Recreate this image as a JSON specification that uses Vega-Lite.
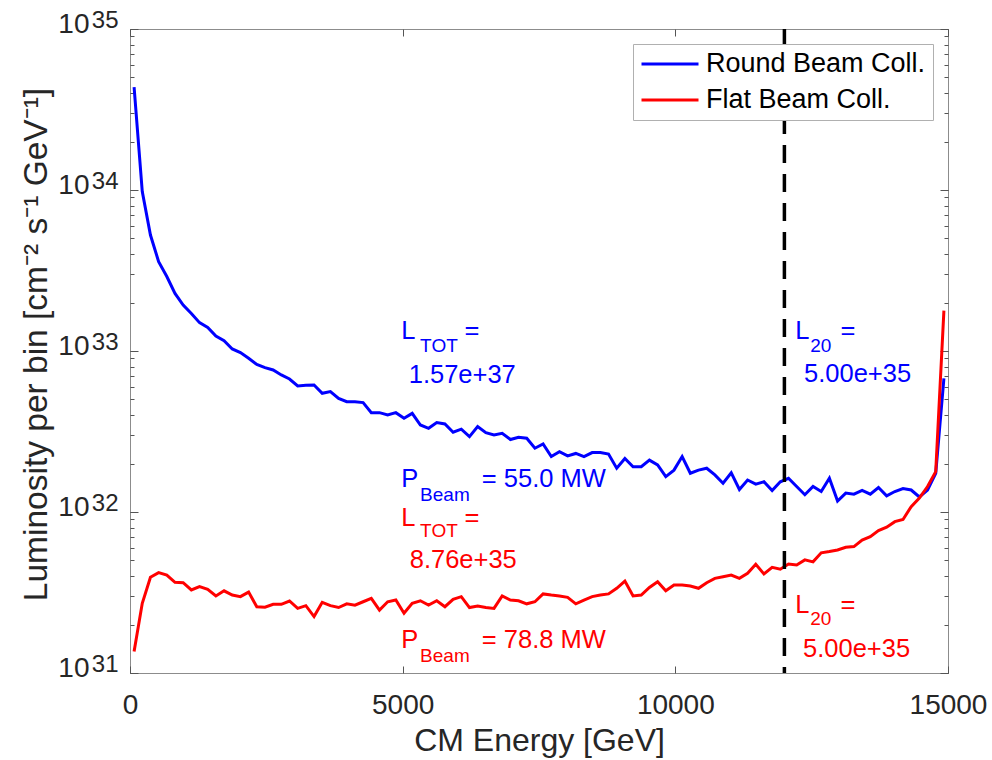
{
  "$schema": "https://vega.github.io/schema/vega-lite/v6.json",
  "width": 818,
  "height": 644,
  "autosize": {"type": "none"},
  "padding": {"left": 130, "top": 29, "right": 44, "bottom": 87},
  "background": "white",
  "config": {
    "font": "Liberation Sans",
    "view": {"stroke": "#8c8c8c", "strokeWidth": 1},
    "axis": {
      "labelFont": "Liberation Sans",
      "titleFont": "Liberation Sans",
      "labelColor": "#262626",
      "titleColor": "#262626",
      "domain": false,
      "tickColor": "#555555",
      "tickWidth": 1,
      "grid": false,
      "labelFontSize": 28,
      "titleFontSize": 28,
      "titleFontWeight": "normal",
      "labelOverlap": false,
      "labelFlush": false
    },
    "legend": {
      "orient": "none",
      "legendX": 503,
      "legendY": 15,
      "fillColor": "white",
      "strokeColor": "#b0b0b0",
      "padding": 7,
      "symbolType": "stroke",
      "symbolSize": 3249,
      "symbolStrokeWidth": 3,
      "clipHeight": 26,
      "labelFontSize": 27,
      "labelFont": "Liberation Sans",
      "labelColor": "black",
      "labelOffset": 6,
      "rowPadding": 9,
      "labelLimit": 400
    }
  },
  "resolve": {"axis": {"x": "independent", "y": "independent"}},
  "layer": [
    {
      "data": {
        "values": [
          {"E": 75, "round": 4.35e34, "flat": 1.36e31},
          {"E": 225, "round": 9.77e33, "flat": 2.71e31},
          {"E": 375, "round": 5.25e33, "flat": 3.93e31},
          {"E": 525, "round": 3.59e33, "flat": 4.20e31},
          {"E": 675, "round": 2.90e33, "flat": 4.06e31},
          {"E": 825, "round": 2.28e33, "flat": 3.66e31},
          {"E": 975, "round": 1.93e33, "flat": 3.64e31},
          {"E": 1125, "round": 1.71e33, "flat": 3.28e31},
          {"E": 1275, "round": 1.50e33, "flat": 3.44e31},
          {"E": 1425, "round": 1.40e33, "flat": 3.31e31},
          {"E": 1575, "round": 1.24e33, "flat": 3.01e31},
          {"E": 1725, "round": 1.16e33, "flat": 3.24e31},
          {"E": 1875, "round": 1.03e33, "flat": 3.05e31},
          {"E": 2025, "round": 9.77e32, "flat": 2.98e31},
          {"E": 2175, "round": 9.02e32, "flat": 3.18e31},
          {"E": 2325, "round": 8.26e32, "flat": 2.58e31},
          {"E": 2475, "round": 7.89e32, "flat": 2.56e31},
          {"E": 2625, "round": 7.62e32, "flat": 2.67e31},
          {"E": 2775, "round": 7.10e32, "flat": 2.67e31},
          {"E": 2925, "round": 6.70e32, "flat": 2.80e31},
          {"E": 3075, "round": 6.07e32, "flat": 2.52e31},
          {"E": 3225, "round": 6.12e32, "flat": 2.62e31},
          {"E": 3375, "round": 6.15e32, "flat": 2.24e31},
          {"E": 3525, "round": 5.46e32, "flat": 2.75e31},
          {"E": 3675, "round": 5.60e32, "flat": 2.62e31},
          {"E": 3825, "round": 5.08e32, "flat": 2.55e31},
          {"E": 3975, "round": 4.84e32, "flat": 2.69e31},
          {"E": 4125, "round": 4.84e32, "flat": 2.64e31},
          {"E": 4275, "round": 4.78e32, "flat": 2.77e31},
          {"E": 4425, "round": 4.14e32, "flat": 2.91e31},
          {"E": 4575, "round": 4.14e32, "flat": 2.46e31},
          {"E": 4725, "round": 4.01e32, "flat": 2.77e31},
          {"E": 4875, "round": 4.14e32, "flat": 2.84e31},
          {"E": 5025, "round": 3.82e32, "flat": 2.35e31},
          {"E": 5175, "round": 4.10e32, "flat": 2.71e31},
          {"E": 5325, "round": 3.47e32, "flat": 2.81e31},
          {"E": 5475, "round": 3.31e32, "flat": 2.64e31},
          {"E": 5625, "round": 3.59e32, "flat": 2.81e31},
          {"E": 5775, "round": 3.52e32, "flat": 2.58e31},
          {"E": 5925, "round": 3.13e32, "flat": 2.87e31},
          {"E": 6075, "round": 3.27e32, "flat": 2.98e31},
          {"E": 6225, "round": 2.94e32, "flat": 2.55e31},
          {"E": 6375, "round": 3.39e32, "flat": 2.61e31},
          {"E": 6525, "round": 3.11e32, "flat": 2.55e31},
          {"E": 6675, "round": 3.01e32, "flat": 2.52e31},
          {"E": 6825, "round": 3.08e32, "flat": 3.01e31},
          {"E": 6975, "round": 2.82e32, "flat": 2.84e31},
          {"E": 7125, "round": 2.91e32, "flat": 2.81e31},
          {"E": 7275, "round": 2.87e32, "flat": 2.69e31},
          {"E": 7425, "round": 2.49e32, "flat": 2.77e31},
          {"E": 7575, "round": 2.65e32, "flat": 3.10e31},
          {"E": 7725, "round": 2.21e32, "flat": 3.05e31},
          {"E": 7875, "round": 2.37e32, "flat": 3.01e31},
          {"E": 8025, "round": 2.23e32, "flat": 2.95e31},
          {"E": 8175, "round": 2.31e32, "flat": 2.69e31},
          {"E": 8325, "round": 2.21e32, "flat": 2.84e31},
          {"E": 8475, "round": 2.34e32, "flat": 2.98e31},
          {"E": 8625, "round": 2.34e32, "flat": 3.05e31},
          {"E": 8775, "round": 2.29e32, "flat": 3.10e31},
          {"E": 8925, "round": 1.87e32, "flat": 3.36e31},
          {"E": 9075, "round": 2.15e32, "flat": 3.72e31},
          {"E": 9225, "round": 1.91e32, "flat": 3.01e31},
          {"E": 9375, "round": 1.91e32, "flat": 3.05e31},
          {"E": 9525, "round": 2.10e32, "flat": 3.40e31},
          {"E": 9675, "round": 1.96e32, "flat": 3.69e31},
          {"E": 9825, "round": 1.66e32, "flat": 3.24e31},
          {"E": 9975, "round": 1.82e32, "flat": 3.52e31},
          {"E": 10125, "round": 2.21e32, "flat": 3.52e31},
          {"E": 10275, "round": 1.74e32, "flat": 3.47e31},
          {"E": 10425, "round": 1.82e32, "flat": 3.36e31},
          {"E": 10575, "round": 1.87e32, "flat": 3.64e31},
          {"E": 10725, "round": 1.70e32, "flat": 3.87e31},
          {"E": 10875, "round": 1.51e32, "flat": 3.96e31},
          {"E": 11025, "round": 1.75e32, "flat": 4.06e31},
          {"E": 11175, "round": 1.38e32, "flat": 3.87e31},
          {"E": 11325, "round": 1.58e32, "flat": 4.16e31},
          {"E": 11475, "round": 1.49e32, "flat": 4.73e31},
          {"E": 11625, "round": 1.54e32, "flat": 4.12e31},
          {"E": 11775, "round": 1.36e32, "flat": 4.53e31},
          {"E": 11925, "round": 1.54e32, "flat": 4.41e31},
          {"E": 12075, "round": 1.62e32, "flat": 4.75e31},
          {"E": 12225, "round": 1.44e32, "flat": 4.69e31},
          {"E": 12375, "round": 1.28e32, "flat": 5.04e31},
          {"E": 12525, "round": 1.44e32, "flat": 4.90e31},
          {"E": 12675, "round": 1.34e32, "flat": 5.58e31},
          {"E": 12825, "round": 1.62e32, "flat": 5.68e31},
          {"E": 12975, "round": 1.17e32, "flat": 5.81e31},
          {"E": 13125, "round": 1.31e32, "flat": 6.04e31},
          {"E": 13275, "round": 1.29e32, "flat": 6.10e31},
          {"E": 13425, "round": 1.36e32, "flat": 6.70e31},
          {"E": 13575, "round": 1.29e32, "flat": 7.03e31},
          {"E": 13725, "round": 1.42e32, "flat": 7.66e31},
          {"E": 13875, "round": 1.26e32, "flat": 8.04e31},
          {"E": 14025, "round": 1.34e32, "flat": 8.71e31},
          {"E": 14175, "round": 1.40e32, "flat": 8.99e31},
          {"E": 14325, "round": 1.37e32, "flat": 1.08e32},
          {"E": 14475, "round": 1.24e32, "flat": 1.22e32},
          {"E": 14625, "round": 1.37e32, "flat": 1.44e32},
          {"E": 14775, "round": 1.74e32, "flat": 1.78e32},
          {"E": 14925, "round": 6.76e32, "flat": 1.78e33}
        ]
      },
      "transform": [{"fold": ["round", "flat"], "as": ["series", "L"]}],
      "mark": {"type": "line", "strokeWidth": 3},
      "encoding": {
        "x": {
          "field": "E", "type": "quantitative",
          "scale": {"domain": [0, 15000], "nice": false, "zero": false},
          "axis": {
            "orient": "bottom",
            "values": [0, 5000, 10000, 15000],
            "format": "d",
            "ticks": false,
            "tickSize": 0,
            "labelPadding": 18,
            "title": "CM Energy [GeV]",
            "titleFontSize": 32,
            "titleX": 409,
            "titleY": 77,
            "titleBaseline": "alphabetic",
            "titleAlign": "center"
          }
        },
        "y": {
          "field": "L", "type": "quantitative",
          "scale": {"type": "log", "domain": [1e31, 1e35], "nice": false},
          "axis": {
            "orient": "left",
            "values": [1e31, 1e32, 1e33, 1e34, 1e35],
            "labelExpr": "'10'",
            "ticks": false,
            "tickSize": 0,
            "labelPadding": 41,
            "labelBaseline": "alphabetic",
            "labelOffset": 3,
            "title": "Luminosity per bin [cm⁻² s⁻¹ GeV⁻¹]",
            "titleFontSize": 33.5,
            "titleAngle": -90,
            "titleX": -84,
            "titleY": 315,
            "titleBaseline": "alphabetic",
            "titleAlign": "center"
          }
        },
        "color": {
          "field": "series", "type": "nominal",
          "scale": {"domain": ["round", "flat"], "range": ["#0000ff", "#ff0000"]},
          "legend": {
            "title": null,
            "labelExpr": "datum.label == 'round' ? 'Round Beam Coll.' : 'Flat Beam Coll.'"
          }
        }
      }
    },
    {
      "data": {"values": [{"E": 12000}]},
      "mark": {"type": "rule", "color": "black", "strokeWidth": 3.5, "strokeDash": [18, 11]},
      "encoding": {
        "x": {"field": "E", "type": "quantitative", "scale": {"domain": [0, 15000], "nice": false, "zero": false}, "axis": null}
      }
    },
    {
      "data": {
        "values": [
          {"E": 4975, "L": 1.179e33, "t": "L"},
          {"E": 6133, "L": 1.179e33, "t": "="},
          {"E": 4975, "L": 1.424e32, "t": "P"},
          {"E": 6451, "L": 1.424e32, "t": "= 55.0 MW"},
          {"E": 12200, "L": 1.182e33, "t": "L"},
          {"E": 13030, "L": 1.182e33, "t": "="}
        ]
      },
      "mark": {"type": "text", "align": "left", "baseline": "alphabetic", "fontSize": 25.5, "font": "Liberation Sans", "color": "#0000ff"},
      "encoding": {
        "x": {
          "field": "E", "type": "quantitative",
          "scale": {"domain": [0, 15000], "nice": false, "zero": false},
          "axis": {"orient": "top", "offset": -644, "values": [0, 5000, 10000, 15000], "labels": false, "ticks": true, "tickSize": 7, "title": null}
        },
        "y": {
          "field": "L", "type": "quantitative",
          "scale": {"type": "log", "domain": [1e31, 1e35], "nice": false},
          "axis": {
            "orient": "right", "offset": -818,
            "values": [1e31, 2e31, 3e31, 4e31, 5e31, 6e31, 7e31, 8e31, 9e31, 1e32, 2e32, 3e32, 4e32, 5e32, 6e32, 7e32, 8e32, 9e32, 1e33, 2e33, 3e33, 4e33, 5e33, 6e33, 7e33, 8e33, 9e33, 1e34, 2e34, 3e34, 4e34, 5e34, 6e34, 7e34, 8e34, 9e34, 1e35],
            "labels": false, "ticks": true, "tickSize": 4, "title": null
          }
        },
        "text": {"field": "t"}
      }
    },
    {
      "data": {
        "values": [
          {"E": 5111, "L": 6.36e32, "t": "1.57e+37"},
          {"E": 12360, "L": 6.45e32, "t": "5.00e+35"}
        ]
      },
      "mark": {"type": "text", "align": "left", "baseline": "alphabetic", "fontSize": 25.5, "font": "Liberation Sans", "color": "#0000ff"},
      "encoding": {
        "x": {
          "field": "E", "type": "quantitative",
          "scale": {"domain": [0, 15000], "nice": false, "zero": false},
          "axis": {"orient": "bottom", "offset": -644, "values": [0, 5000, 10000, 15000], "labels": false, "ticks": true, "tickSize": 7, "title": null}
        },
        "y": {
          "field": "L", "type": "quantitative",
          "scale": {"type": "log", "domain": [1e31, 1e35], "nice": false},
          "axis": {"orient": "right", "offset": -818, "values": [1e31, 1e32, 1e33, 1e34, 1e35], "labels": false, "ticks": true, "tickSize": 8, "title": null}
        },
        "text": {"field": "t"}
      }
    },
    {
      "data": {
        "values": [
          {"E": 5320, "L": 9.90e32, "t": "TOT"},
          {"E": 5320, "L": 1.176e32, "t": "Beam"},
          {"E": 12472, "L": 9.90e32, "t": "20"}
        ]
      },
      "mark": {"type": "text", "align": "left", "baseline": "alphabetic", "fontSize": 19, "font": "Liberation Sans", "color": "#0000ff"},
      "encoding": {
        "x": {"field": "E", "type": "quantitative", "scale": {"domain": [0, 15000], "nice": false, "zero": false}, "axis": null},
        "y": {
          "field": "L", "type": "quantitative",
          "scale": {"type": "log", "domain": [1e31, 1e35], "nice": false},
          "axis": {
            "orient": "left", "offset": -818,
            "values": [1e31, 2e31, 3e31, 4e31, 5e31, 6e31, 7e31, 8e31, 9e31, 1e32, 2e32, 3e32, 4e32, 5e32, 6e32, 7e32, 8e32, 9e32, 1e33, 2e33, 3e33, 4e33, 5e33, 6e33, 7e33, 8e33, 9e33, 1e34, 2e34, 3e34, 4e34, 5e34, 6e34, 7e34, 8e34, 9e34, 1e35],
            "labels": false, "ticks": true, "tickSize": 4, "title": null
          }
        },
        "text": {"field": "t"}
      }
    },
    {
      "data": {
        "values": [
          {"E": 4975, "L": 8.18e31, "t": "L"},
          {"E": 6133, "L": 8.18e31, "t": "="},
          {"E": 5129, "L": 4.47e31, "t": "8.76e+35"},
          {"E": 4975, "L": 1.424e31, "t": "P"},
          {"E": 6451, "L": 1.424e31, "t": "= 78.8 MW"},
          {"E": 12200, "L": 2.349e31, "t": "L"},
          {"E": 13030, "L": 2.349e31, "t": "="},
          {"E": 12341, "L": 1.263e31, "t": "5.00e+35"}
        ]
      },
      "mark": {"type": "text", "align": "left", "baseline": "alphabetic", "fontSize": 25.5, "font": "Liberation Sans", "color": "#ff0000"},
      "encoding": {
        "x": {"field": "E", "type": "quantitative", "scale": {"domain": [0, 15000], "nice": false, "zero": false}, "axis": null},
        "y": {
          "field": "L", "type": "quantitative",
          "scale": {"type": "log", "domain": [1e31, 1e35], "nice": false},
          "axis": {"orient": "left", "offset": -818, "values": [1e31, 1e32, 1e33, 1e34, 1e35], "labels": false, "ticks": true, "tickSize": 8, "title": null}
        },
        "text": {"field": "t"}
      }
    },
    {
      "data": {
        "values": [
          {"E": 5320, "L": 6.96e31, "t": "TOT"},
          {"E": 5320, "L": 1.176e31, "t": "Beam"},
          {"E": 12472, "L": 1.987e31, "t": "20"}
        ]
      },
      "mark": {"type": "text", "align": "left", "baseline": "alphabetic", "fontSize": 19, "font": "Liberation Sans", "color": "#ff0000"},
      "encoding": {
        "x": {"field": "E", "type": "quantitative", "scale": {"domain": [0, 15000], "nice": false, "zero": false}, "axis": null},
        "y": {
          "field": "L", "type": "quantitative",
          "scale": {"type": "log", "domain": [1e31, 1e35], "nice": false},
          "axis": {
            "orient": "left",
            "values": [1e31, 1e32, 1e33, 1e34, 1e35],
            "labelExpr": "datum.value==1e31?'31':datum.value==1e32?'32':datum.value==1e33?'33':datum.value==1e34?'34':'35'",
            "labelFontSize": 24,
            "labelPadding": 12,
            "labelBaseline": "alphabetic",
            "labelOffset": -2,
            "ticks": false,
            "tickSize": 0,
            "title": null
          }
        },
        "text": {"field": "t"}
      }
    }
  ]
}
